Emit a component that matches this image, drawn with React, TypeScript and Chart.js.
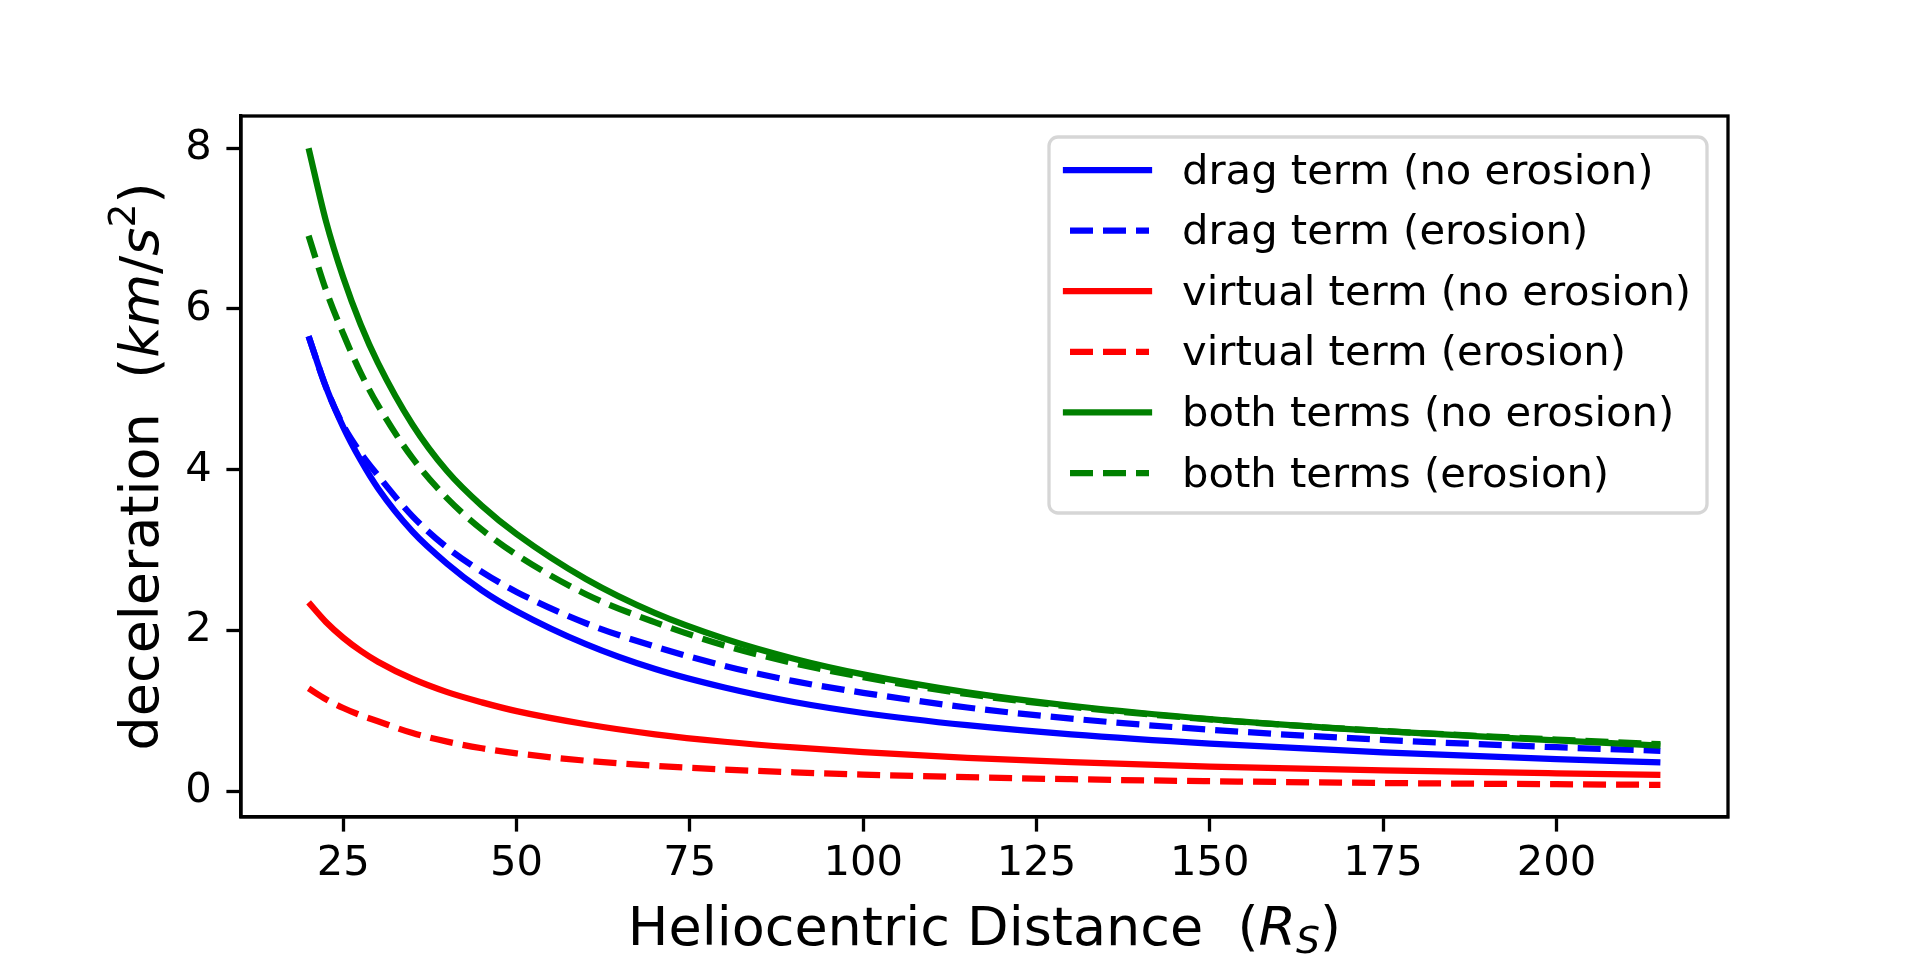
import React, { useEffect, useRef } from 'react';
import { Chart, registerables } from 'chart.js';

Chart.register(...registerables);

// heliocentric distance in solar radii
const distance = [20, 22.5, 25, 27.5, 30, 35, 40, 45, 50, 60, 70, 80, 90, 100, 115, 130, 150, 175, 200, 215];

// deceleration (km/s^2)
const dragNoErosion = [5.66, 5.03, 4.53, 4.12, 3.77, 3.23, 2.83, 2.5, 2.24, 1.83, 1.52, 1.29, 1.11, 0.974, 0.822, 0.708, 0.594, 0.485, 0.401, 0.36];
const dragErosion = [5.66, 5.03, 4.55, 4.21, 3.93, 3.42, 3.03, 2.73, 2.48, 2.09, 1.8, 1.56, 1.37, 1.225, 1.042, 0.904, 0.766, 0.64, 0.548, 0.504];
const virtualNoErosion = [2.35, 2.106, 1.91, 1.748, 1.612, 1.397, 1.233, 1.106, 0.997, 0.834, 0.709, 0.616, 0.545, 0.488, 0.416, 0.363, 0.308, 0.259, 0.223, 0.205];
const virtualErosion = [1.28, 1.145, 1.036, 0.946, 0.871, 0.724, 0.617, 0.535, 0.472, 0.38, 0.317, 0.271, 0.236, 0.208, 0.175, 0.15, 0.125, 0.103, 0.0875, 0.08];
const bothNoErosion = [8.0, 7.094, 6.39, 5.81, 5.33, 4.56, 3.98, 3.55, 3.2, 2.64, 2.215, 1.897, 1.649, 1.454, 1.231, 1.064, 0.898, 0.747, 0.632, 0.569];
const bothErosion = [6.91, 6.237, 5.691, 5.208, 4.803, 4.143, 3.644, 3.255, 2.942, 2.451, 2.101, 1.814, 1.594, 1.419, 1.21, 1.052, 0.894, 0.75, 0.644, 0.586];

const seriesLabels = [
  'drag term (no erosion)',
  'drag term (erosion)',
  'virtual term (no erosion)',
  'virtual term (erosion)',
  'both terms (no erosion)',
  'both terms (erosion)',
];
const seriesValues = [dragNoErosion, dragErosion, virtualNoErosion, virtualErosion, bothNoErosion, bothErosion];
const seriesColors = ['#0000ff', '#0000ff', '#ff0000', '#ff0000', '#008000', '#008000'];
const seriesDashed = [false, true, false, true, false, true];

const xTicks = [25, 50, 75, 100, 125, 150, 175, 200];
const yTicks = [0, 2, 4, 6, 8];

const FONT = '"DejaVu Sans", sans-serif';
const TICK_PX = 41.7;
const LABEL_PX = 54;
const LINE_W = 6.25;
const SPINE_W = 3.3;
const DASH = [23, 10];

type Seg = { text: string; italic?: boolean; scale?: number; dy?: number };

const segFont = (s: Seg, size: number) =>
  `${s.italic ? 'italic ' : ''}${size * (s.scale ?? 1)}px ${FONT}`;

function drawRich(ctx: CanvasRenderingContext2D, segs: Seg[], cx: number, baseline: number, size: number) {
  let total = 0;
  const widths = segs.map((s) => {
    ctx.font = segFont(s, size);
    const w = ctx.measureText(s.text).width;
    total += w;
    return w;
  });
  let x = cx - total / 2;
  ctx.textAlign = 'left';
  ctx.textBaseline = 'alphabetic';
  segs.forEach((s, i) => {
    ctx.font = segFont(s, size);
    ctx.fillText(s.text, x, baseline + (s.dy ?? 0) * size);
    x += widths[i];
  });
}

const xTitle: Seg[] = [
  { text: 'Heliocentric Distance  (' },
  { text: 'R', italic: true },
  { text: 'S', italic: true, scale: 0.7, dy: 0.15 },
  { text: ')' },
];
const yTitle: Seg[] = [
  { text: 'deceleration  (' },
  { text: 'km', italic: true },
  { text: '/' },
  { text: 's', italic: true },
  { text: '2', scale: 0.7, dy: -0.42 },
  { text: ')' },
];

const decorations = {
  id: 'mplDecorations',
  afterDraw(chart: Chart) {
    const { ctx, chartArea: a } = chart;
    ctx.save();
    // frame
    ctx.strokeStyle = '#000';
    ctx.lineWidth = SPINE_W;
    ctx.strokeRect(a.left, a.top, a.right - a.left, a.bottom - a.top);

    // axis titles
    ctx.fillStyle = '#000';
    drawRich(ctx, xTitle, (a.left + a.right) / 2, 945, LABEL_PX);
    ctx.save();
    ctx.translate(158, (a.top + a.bottom) / 2);
    ctx.rotate(-Math.PI / 2);
    drawRich(ctx, yTitle, 0, 0, LABEL_PX);
    ctx.restore();

    // legend
    const boxL = 1049, boxT = 137, boxR = 1707, boxB = 513, r = 9;
    ctx.beginPath();
    ctx.moveTo(boxL + r, boxT);
    ctx.arcTo(boxR, boxT, boxR, boxB, r);
    ctx.arcTo(boxR, boxB, boxL, boxB, r);
    ctx.arcTo(boxL, boxB, boxL, boxT, r);
    ctx.arcTo(boxL, boxT, boxR, boxT, r);
    ctx.closePath();
    ctx.fillStyle = 'rgba(255,255,255,0.8)';
    ctx.fill();
    ctx.strokeStyle = 'rgba(204,204,204,0.8)';
    ctx.lineWidth = SPINE_W;
    ctx.stroke();

    seriesLabels.forEach((label, i) => {
      const y = 170 + i * 60.6;
      ctx.beginPath();
      ctx.strokeStyle = seriesColors[i];
      ctx.lineWidth = LINE_W;
      ctx.lineCap = seriesDashed[i] ? 'butt' : 'square';
      ctx.setLineDash(seriesDashed[i] ? DASH : []);
      ctx.lineDashOffset = seriesDashed[i] ? -4 : 0;
      ctx.moveTo(1066, y);
      ctx.lineTo(1149, y);
      ctx.stroke();
      ctx.setLineDash([]);
      ctx.fillStyle = '#000';
      ctx.font = `${TICK_PX}px ${FONT}`;
      ctx.textAlign = 'left';
      ctx.textBaseline = 'alphabetic';
      ctx.fillText(label, 1182, y + 13.5);
    });
    ctx.restore();
  },
};

export default function App() {
  const canvasRef = useRef<HTMLCanvasElement>(null);
  const chartRef = useRef<Chart | null>(null);

  useEffect(() => {
    if (!canvasRef.current) return;
    const ctx = canvasRef.current.getContext('2d');
    if (!ctx) return;
    if (chartRef.current) chartRef.current.destroy();

    chartRef.current = new Chart(ctx, {
      type: 'line',
      data: {
        datasets: seriesValues.map((vals, i) => ({
          label: seriesLabels[i],
          data: distance.map((d, j) => ({ x: d, y: vals[j] })),
          borderColor: seriesColors[i],
          backgroundColor: seriesColors[i],
          borderWidth: LINE_W,
          borderDash: seriesDashed[i] ? DASH : [],
          pointRadius: 0,
          fill: false,
          cubicInterpolationMode: 'monotone' as const,
          order: seriesValues.length - i,
        })),
      },
      options: {
        animation: false,
        responsive: false,
        devicePixelRatio: 1,
        layout: { padding: { left: 0, right: 192, top: 116, bottom: 0 } },
        plugins: { legend: { display: false }, tooltip: { enabled: false } },
        scales: {
          x: {
            type: 'linear',
            min: 10.25,
            max: 224.75,
            afterBuildTicks: (scale: any) => {
              scale.ticks = xTicks.map((v) => ({ value: v }));
            },
            afterFit: (scale: any) => {
              scale.height = 144;
            },
            grid: { drawOnChartArea: false, drawTicks: true, tickLength: 14.6, tickWidth: SPINE_W, tickColor: '#000' },
            border: { display: true, color: '#000', width: SPINE_W },
            ticks: {
              color: '#000',
              font: { family: FONT, size: TICK_PX },
              padding: 8,
              maxRotation: 0,
              autoSkip: false,
              callback: (v: any) => String(v),
            },
          },
          y: {
            type: 'linear',
            min: -0.32,
            max: 8.4,
            afterBuildTicks: (scale: any) => {
              scale.ticks = yTicks.map((v) => ({ value: v }));
            },
            afterFit: (scale: any) => {
              scale.width = 241;
            },
            grid: { drawOnChartArea: false, drawTicks: true, tickLength: 14.6, tickWidth: SPINE_W, tickColor: '#000' },
            border: { display: true, color: '#000', width: SPINE_W },
            ticks: {
              color: '#000',
              font: { family: FONT, size: TICK_PX },
              padding: 14.6,
              autoSkip: false,
              callback: (v: any) => String(v),
            },
          },
        },
      },
      plugins: [decorations],
    });

    return () => chartRef.current?.destroy();
  }, []);

  return (
    <div style={{ position: 'absolute', left: 0, top: 0, width: 1920, height: 961, background: '#fff' }}>
      <canvas ref={canvasRef} width={1920} height={961} style={{ width: 1920, height: 961 }}></canvas>
    </div>
  );
}
